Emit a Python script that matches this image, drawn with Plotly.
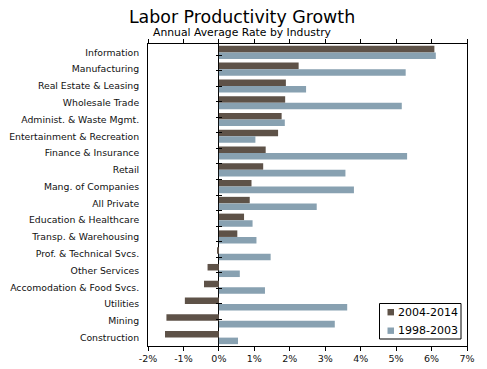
import plotly.graph_objects as go

categories = ["Information", "Manufacturing", "Real Estate & Leasing", "Wholesale Trade",
              "Administ. & Waste Mgmt.", "Entertainment & Recreation", "Finance & Insurance",
              "Retail", "Mang. of Companies", "All Private", "Education & Healthcare",
              "Transp. & Warehousing", "Prof. & Technical Svcs.", "Other Services",
              "Accomodation & Food Svcs.", "Utilities", "Mining", "Construction"]
recent = [6.08, 2.25, 1.89, 1.87, 1.77, 1.67, 1.32, 1.25, 0.92, 0.87, 0.71, 0.52,
          -0.03, -0.32, -0.42, -0.96, -1.48, -1.52]
earlier = [6.12, 5.27, 2.46, 5.16, 1.86, 1.03, 5.31, 3.57, 3.81, 2.76, 0.95, 1.06,
           1.46, 0.59, 1.30, 3.62, 3.27, 0.54]
series_names = ["2004-2014", "1998-2003"]
x_ticks = [-2, -1, 0, 1, 2, 3, 4, 5, 6, 7]
x_labels = ["-2%", "-1%", "0%", "1%", "2%", "3%", "4%", "5%", "6%", "7%"]

FONT = "DejaVu Sans"
DARK = "#5e5248"
LIGHT = "#88a1b1"
COLORS = [DARK, LIGHT]

W, H = 487, 369
ML, MR, MT, MB = 148, 20, 44, 23
plot_w = W - ML - MR
plot_h = H - MT - MB


def px_x(px):
    return (px - ML) / plot_w


def px_y(py):
    return (H - MB - py) / plot_h


fig = go.Figure()
for name, vals, col in zip(series_names, [recent, earlier], COLORS):
    fig.add_trace(go.Bar(y=categories, x=vals, orientation="h", name=name,
                         marker=dict(color=col, line=dict(width=0)), showlegend=False))
# invisible helper trace for the tick marks on the zero axis
fig.add_trace(go.Scatter(y=categories, x=[0] * len(categories), yaxis="y2", mode="markers",
                         marker=dict(opacity=0), showlegend=False, hoverinfo="skip"))

zero_pos = (0 - x_ticks[0]) / (x_ticks[-1] - x_ticks[0])

# legend (box, swatches, labels)
shapes = [dict(type="rect", xref="paper", yref="paper",
               x0=px_x(379.5), x1=px_x(461), y0=px_y(339), y1=px_y(303.5),
               line=dict(color="#000000", width=1), fillcolor="white", layer="above")]
annotations = [dict(text="Annual Average Rate by Industry", xref="paper", yref="paper",
                    x=px_x(242.5), y=px_y(33), xanchor="center", yanchor="middle",
                    showarrow=False, font=dict(family=FONT, size=10.8, color="#000000"))]
for i, (name, col) in enumerate(zip(series_names, COLORS)):
    cy = 312.2 + i * 18.5
    shapes.append(dict(type="rect", xref="paper", yref="paper",
                       x0=px_x(387.5), x1=px_x(394), y0=px_y(cy + 3.2), y1=px_y(cy - 3.2),
                       line=dict(width=0), fillcolor=col, layer="above"))
    annotations.append(dict(text=name, xref="paper", yref="paper", x=px_x(396),
                            y=px_y(cy), xanchor="left", yanchor="middle", showarrow=False,
                            font=dict(family=FONT, size=11, color="#000000")))

fig.update_layout(
    width=W, height=H,
    margin=dict(l=ML, r=MR, t=MT, b=MB, autoexpand=False),
    paper_bgcolor="white", plot_bgcolor="white",
    barmode="group", bargap=0.22, bargroupgap=0,
    showlegend=False,
    font=dict(family=FONT, color="#111111", size=9),
    title=dict(text="Labor Productivity Growth", x=0.497, xanchor="center",
               y=0.955, yanchor="middle", xref="container", yref="container",
               font=dict(family=FONT, size=17.4, color="#000000")),
    annotations=annotations,
    shapes=shapes,
    xaxis=dict(range=[x_ticks[0], x_ticks[-1]], tickvals=x_ticks, ticktext=x_labels,
               showgrid=False, zeroline=True, zerolinecolor="#000000", zerolinewidth=1,
               showline=True, linecolor="#000000", linewidth=1, mirror="all",
               ticks="outside", ticklen=4, tickcolor="#000000", automargin=False,
               tickfont=dict(size=9.5)),
    yaxis=dict(type="category", categoryarray=categories, categoryorder="array",
               autorange="reversed", automargin=False,
               showgrid=False, showline=True, linecolor="#000000", linewidth=1, mirror="all",
               ticks="", ticklabelstandoff=6, tickfont=dict(size=9.3)),
    yaxis2=dict(type="category", categoryarray=categories, categoryorder="array",
                autorange="reversed", overlaying="y", anchor="free", automargin=False,
                position=zero_pos + 3.0 / plot_w, showticklabels=False, showline=False,
                showgrid=False, zeroline=False, ticks="outside", ticklen=6,
                tickcolor="#000000", tickson="boundaries"),
)

fig.write_html("out.html", config={"displayModeBar": False},
               post_script="document.body.style.margin='0';")
